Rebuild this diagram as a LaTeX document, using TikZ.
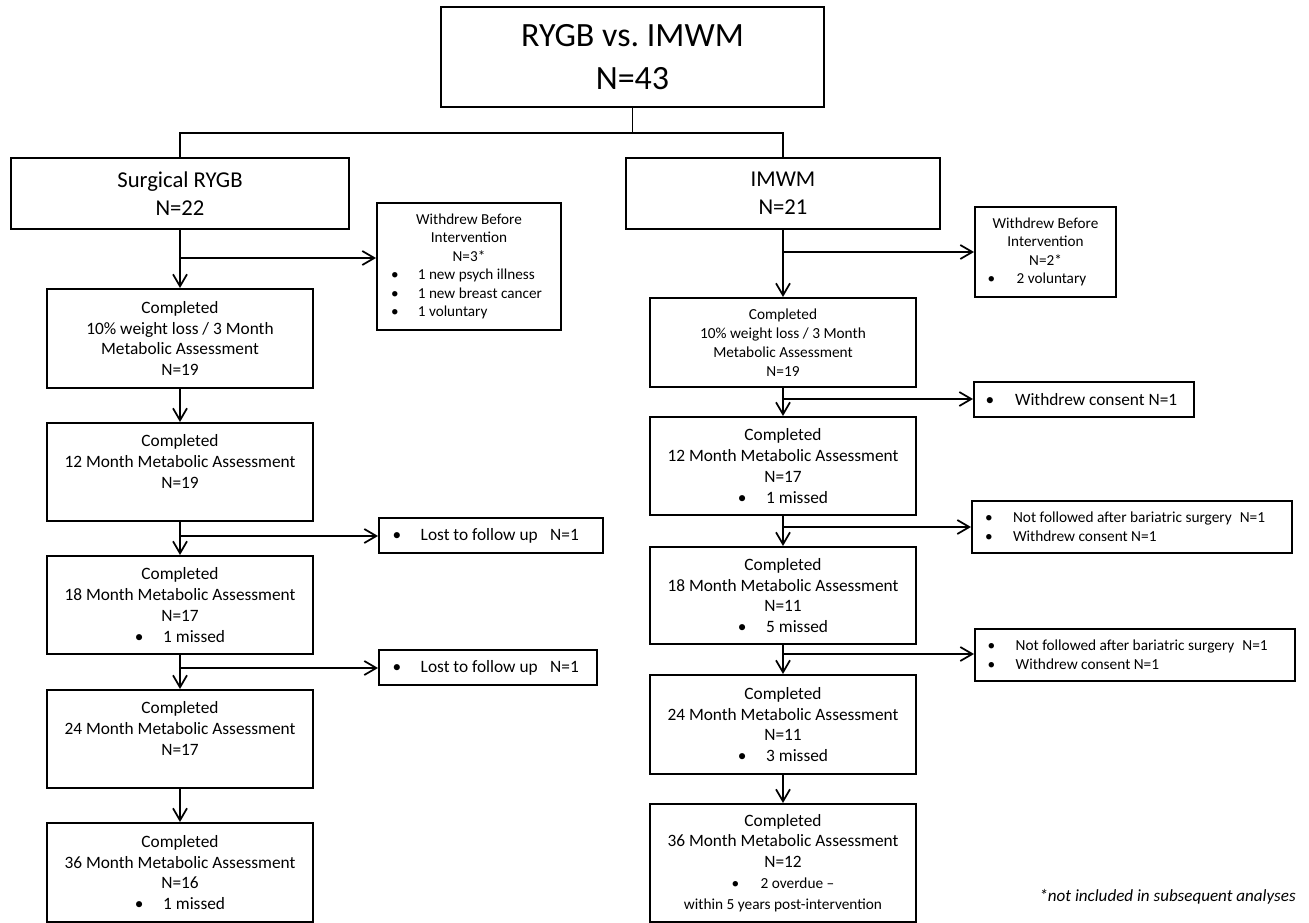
\documentclass[tikz,border=0pt]{standalone}
\usepackage{fontspec}
\setmainfont{Carlito}
\usetikzlibrary{arrows.meta}
\frenchspacing
\newcommand{\mybul}[1]{\makebox[#1][l]{•}}
\begin{document}
\begin{tikzpicture}[x=0.75pt,y=-0.75pt,
  box/.style={draw=black, line width=1.5pt, align=center, inner sep=0pt, text=black},
  fT/.style={font=\fontsize{25.5}{32}\selectfont},
  fS/.style={font=\fontsize{17}{21}\selectfont},
  fM/.style={font=\fontsize{13}{15.6}\selectfont},
  fN/.style={font=\fontsize{11.5}{14.1}\selectfont},
  fW/.style={font=\fontsize{11.4}{13.9}\selectfont},
  main/.style={box, fM, minimum width=199.5pt},
  conn/.style={line width=1.3pt},
  arr/.style={conn, -{Straight Barb[length=9pt,width=10.5pt]}}
]
\useasboundingbox (0,0) rectangle (1309,923);

% top and arms
\node[box, fT, minimum width=287.25pt, minimum height=75pt] (top) at (632.5,57) {RYGB vs.\ IMWM\\N=43};
\node[box, fS, minimum width=253.5pt, minimum height=53.25pt] (surg) at (180,193.5) {Surgical RYGB\\N=22};
\node[box, fS, minimum width=235.5pt, minimum height=53.25pt] (imwm) at (783,193.5) {IMWM\\N=21};

% left column
\node[box, fW, minimum width=138pt, minimum height=95.25pt] (wl) at (469,266.5)
  {Withdrew Before\\Intervention\\N=3*\\
   \makebox[116.7pt][l]{\mybul{20pt}1 new psych illness}\\
   \makebox[116.7pt][l]{\mybul{20pt}1 new breast cancer}\\
   \makebox[116.7pt][l]{\mybul{20pt}1 voluntary}};
\node[main, minimum height=74.25pt] (l1) at (180,338.5) {Completed\\10\% weight loss / 3 Month\\Metabolic Assessment\\N=19};
\node[main, minimum height=73.5pt] (l2) at (180,472) {Completed\\12 Month Metabolic Assessment\\N=19\\\vphantom{1 missed}};
\node[box, fM, minimum width=168pt, minimum height=26.25pt] (lost1) at (491,535.5)
  {\makebox[147.4pt][l]{\mybul{21pt}Lost to follow up\hspace{9.4pt}N=1}};
\node[main, minimum height=73.5pt] (l3) at (180,605) {Completed\\18 Month Metabolic Assessment\\N=17\\\mybul{21.2pt}1 missed};
\node[box, fM, minimum width=163.5pt, minimum height=26.25pt] (lost2) at (488,667.5)
  {\makebox[142.9pt][l]{\mybul{21pt}Lost to follow up\hspace{9.4pt}N=1}};
\node[main, minimum height=73.5pt] (l4) at (180,739) {Completed\\24 Month Metabolic Assessment\\N=17\\\vphantom{1 missed}};
\node[main, minimum height=74.25pt] (l5) at (180,872.5) {Completed\\36 Month Metabolic Assessment\\N=16\\\mybul{21.2pt}1 missed};

% right column
\node[box, fW, minimum width=105.75pt, minimum height=67.5pt] (wr) at (1045.5,252)
  {Withdrew Before\\Intervention\\N=2*\\
   \makebox[86.7pt][l]{\mybul{21.7pt}2 voluntary}};
\node[box, fN, minimum width=199.5pt, minimum height=66.75pt] (r1) at (783,342.5) {Completed\\10\% weight loss / 3 Month\\Metabolic Assessment\\N=19};
\node[box, fM, minimum width=165pt, minimum height=26.25pt] (wc) at (1084,399.5)
  {\makebox[147.4pt][l]{\mybul{22pt}Withdrew consent N=1}};
\node[main, minimum height=73.5pt] (r2) at (783,466) {Completed\\12 Month Metabolic Assessment\\N=17\\\mybul{21.2pt}1 missed};
\node[box, fN, minimum width=240pt, minimum height=39pt] (nf1) at (1132,527)
  {\makebox[220.2pt][l]{\mybul{20.9pt}Not followed after bariatric surgery\hspace{6pt}N=1}\\
   \makebox[220.2pt][l]{\mybul{20.9pt}Withdrew consent N=1}};
\node[main, minimum height=72.75pt] (r3) at (783,595.5) {Completed\\18 Month Metabolic Assessment\\N=11\\\mybul{21.2pt}5 missed};
\node[box, fN, minimum width=240pt, minimum height=39pt] (nf2) at (1135,655)
  {\makebox[221pt][l]{\mybul{21pt}Not followed after bariatric surgery\hspace{6pt}N=1}\\
   \makebox[221pt][l]{\mybul{21pt}Withdrew consent N=1}};
\node[main, minimum height=74.25pt] (r4) at (783,724.5) {Completed\\24 Month Metabolic Assessment\\N=11\\\mybul{21.2pt}3 missed};
\node[main, minimum height=88.5pt] (r5) at (783,863) {Completed\\36 Month Metabolic Assessment\\N=12\\
  {\fontsize{11.5}{14}\selectfont\mybul{21.7pt}2 overdue –}\\
  {\fontsize{11.5}{14}\selectfont within 5 years post-intervention}};

\node[anchor=east, inner sep=0pt, font=\fontsize{12.8}{15}\selectfont\itshape] (note) at (1296,897) {*not included in subsequent analyses};

% connectors
\coordinate (tr) at (632.5,133);
\draw[conn] (top.south) -- (tr);
\draw[conn] (surg.north) |- (tr) -| (imwm.north);

\draw[arr] (surg.south) -- (l1.north);
\coordinate (bl1) at (180,258);
\draw[arr] (bl1) -- (bl1 -| wl.west);
\draw[arr] (l1.south) -- (l2.north);
\draw[arr] (l2.south) -- (l3.north);
\coordinate (bl2) at (180,536);
\draw[arr] (bl2) -- (bl2 -| lost1.west);
\draw[arr] (l3.south) -- (l4.north);
\coordinate (bl3) at (180,668);
\draw[arr] (bl3) -- (bl3 -| lost2.west);
\draw[arr] (l4.south) -- (l5.north);

\draw[arr] (imwm.south) -- (r1.north);
\coordinate (br1) at (783,252);
\draw[arr] (br1) -- (br1 -| wr.west);
\draw[arr] (r1.south) -- (r2.north);
\coordinate (br2) at (783,399);
\draw[arr] (br2) -- (br2 -| wc.west);
\draw[arr] (r2.south) -- (r3.north);
\coordinate (br3) at (783,527);
\draw[arr] (br3) -- (br3 -| nf1.west);
\draw[arr] (r3.south) -- (r4.north);
\coordinate (br4) at (783,654);
\draw[arr] (br4) -- (br4 -| nf2.west);
\draw[arr] (r4.south) -- (r5.north);
\end{tikzpicture}
\end{document}
